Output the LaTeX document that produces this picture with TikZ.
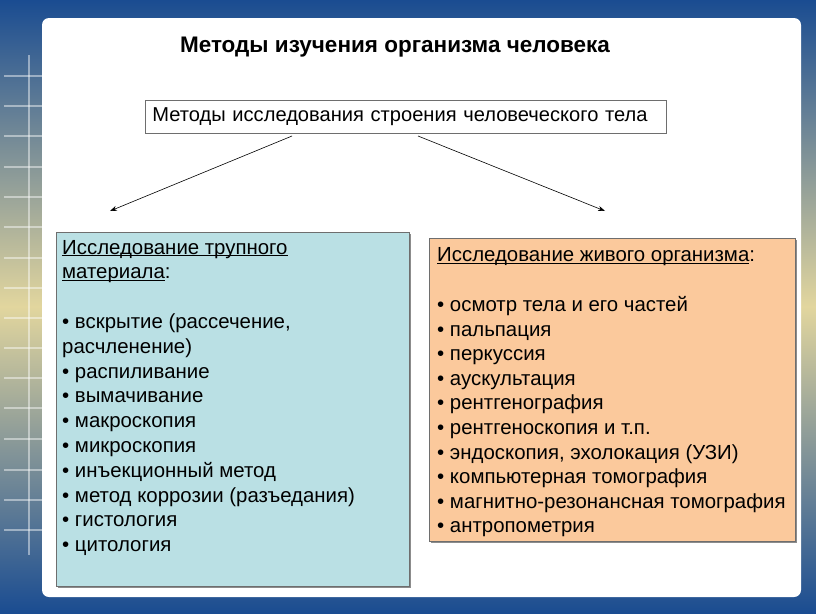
\documentclass[tikz,border=0pt]{standalone}
\usepackage{fontspec}
\setmainfont{Liberation Sans}
\usetikzlibrary{arrows.meta}
\definecolor{bgblue}{RGB}{26,76,145}
\definecolor{bgmid}{RGB}{226,214,158}
\definecolor{lbfill}{RGB}{186,224,228}
\definecolor{rbfill}{RGB}{251,201,156}
\definecolor{edgegrey}{RGB}{110,110,110}
\newcommand{\myul}[1]{\setbox0\hbox{#1}\rlap{\rule[-2.4pt]{\wd0}{1pt}}\box0}
\tikzset{
  gridline/.style={white, opacity=0.45, line width=1.6pt},
  listbox/.style={draw=edgegrey, line width=1pt},
  shadowbox/.style={fill=black!45},
  txt/.style={inner sep=0pt, align=left, anchor=north west},
  conn/.style={line width=0.6pt, -{Stealth[length=7pt,width=5pt]}}
}
\begin{document}
\begin{tikzpicture}[x=1pt,y=-1pt]
\useasboundingbox (0,0) rectangle (816,613);
% background
\shade[top color=bgblue, bottom color=bgblue, middle color=bgmid] (0,0) rectangle (816,613);
\draw[gridline] (29,55) -- (29,555);
\foreach \yy in {76,106,136,167,197,227,258,288,318,348,378,408,439,470,500,530}
  \draw[gridline] (4,\yy) -- (42,\yy);
% slide
\fill[white, rounded corners=7pt] (42,18) rectangle (801,597);
% title
\node[font=\bfseries\fontsize{22.5}{26}\selectfont, inner sep=0pt] (title) at (395,47.5) {Методы изучения организма человека};
% top box
\node[draw=edgegrey, line width=0.8pt, anchor=west, text width=507pt, align=left, minimum height=33pt, inner xsep=7pt, inner ysep=0pt, font=\fontsize{20.1}{24}\selectfont] (top) at (145,116.5) {Методы исследования строения человеческого тела};
% left box
\fill[shadowbox] (58,234) rectangle (411,588);
\node[listbox, fill=lbfill, minimum width=353pt, minimum height=354pt, anchor=north west, inner sep=0pt] (left) at (56,232) {};
\node[txt, font=\fontsize{20.4}{24.8}\selectfont] (lefttext) at (62,236.5) {\strut\myul{Исследование трупного}\\
\myul{материала}:\\[24.8pt]
• вскрытие (рассечение,\\
расчленение)\\
• распиливание\\
• вымачивание\\
• макроскопия\\
• микроскопия\\
• инъекционный метод\\
• метод коррозии (разъедания)\\
• гистология\\
• цитология};
% right box
\fill[shadowbox] (431,240) rectangle (797,543);
\node[listbox, fill=rbfill, minimum width=366pt, minimum height=303pt, anchor=north west, inner sep=0pt] (right) at (429,238) {};
\node[txt, font=\fontsize{20.4}{24.6}\selectfont] (righttext) at (437,244.5) {\strut\myul{Исследование живого организма}:\\[25pt]
• осмотр тела и его частей\\
• пальпация\\
• перкуссия\\
• аускультация\\
• рентгенография\\
• рентгеноскопия и т.п.\\
• эндоскопия, эхолокация (УЗИ)\\
• компьютерная томография\\
• магнитно-резонансная томография\\
• антропометрия};
% connectors
\coordinate (ls) at (292,136);
\coordinate (le) at (110,211);
\coordinate (rs) at (418,136);
\coordinate (re) at (605,211);
\draw[conn] (ls) -- (le);
\draw[conn] (rs) -- (re);
\end{tikzpicture}
\end{document}
